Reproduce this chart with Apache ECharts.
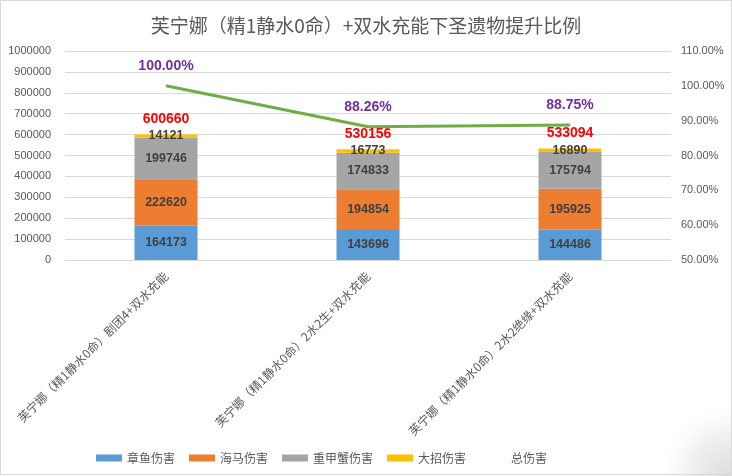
<!DOCTYPE html>
<html>
<head>
<meta charset="utf-8">
<script src="https://cdn.jsdelivr.net/npm/echarts@6/dist/echarts.min.js"></script>
<style>
html,body{margin:0;padding:0;background:#fff;}
#chart{width:732px;height:476px;}
</style>
</head>
<body>
<div id="chart"></div>
<script>
const titleText = '芙宁娜（精1静水0命）+双水充能下圣遗物提升比例';
const categories = ['芙宁娜（精1静水0命）剧团4+双水充能', '芙宁娜（精1静水0命）2水2生+双水充能', '芙宁娜（精1静水0命）2水2绝缘+双水充能'];
const octopus = [164173, 143696, 144486];
const seahorse = [222620, 194854, 195925];
const crab = [199746, 174833, 175794];
const burst = [14121, 16773, 16890];
const total = [600660, 530156, 533094];
const ratio = [1.0, 0.8826, 0.8875];
const seriesNames = ['章鱼伤害', '海马伤害', '重甲蟹伤害', '大招伤害', '总伤害'];

const cjk = '"Noto Sans CJK SC", "Liberation Sans", sans-serif';
const num = '"Liberation Sans", "Noto Sans CJK SC", sans-serif';
const colors = ['#5B9BD5', '#ED7D31', '#A5A5A5', '#FFC000'];
const segLabel = {show: true, position: 'inside', color: '#404040', fontSize: 12.5, fontWeight: 'bold', fontFamily: num};

function barSeries(name, data, color) {
  return {name, type: 'bar', stack: 'dmg', data, barWidth: 63, itemStyle: {color}, label: segLabel, z: 2};
}

const chart = echarts.init(document.getElementById('chart'));
chart.setOption({
  animation: false,
  backgroundColor: '#fff',
  title: {text: titleText, left: 'center', top: 11, textStyle: {fontFamily: cjk, fontSize: 19, fontWeight: 'normal', color: '#595959'}},
  graphic: [
    {type: 'rect', shape: {x: 520, y: 400, width: 212, height: 76}, silent: true, z: -1,
     style: {fill: new echarts.graphic.RadialGradient(1, 1, 1, [{offset: 0, color: '#dcdcdc'}, {offset: 0.6, color: '#f2f2f2'}, {offset: 1, color: 'rgba(255,255,255,0)'}])}},
    {type: 'rect', shape: {x: 0.5, y: 0.5, width: 731, height: 474}, silent: true, z: 100,
     style: {fill: 'none', stroke: '#d9d9d9', lineWidth: 1}}
  ],
  legend: {
    left: 96, top: 452, padding: 0, itemWidth: 26, itemHeight: 7, itemGap: 14, icon: 'rect',
    textStyle: {fontFamily: cjk, fontSize: 12, color: '#595959'},
    data: [
      {name: seriesNames[0]}, {name: seriesNames[1]}, {name: seriesNames[2]}, {name: seriesNames[3]},
      {name: seriesNames[4], itemStyle: {color: 'rgba(0,0,0,0)'}}
    ]
  },
  grid: {left: 65, right: 61, top: 51, bottom: 216},
  xAxis: {
    type: 'category', data: categories,
    axisLine: {lineStyle: {color: '#d9d9d9'}}, axisTick: {show: false},
    axisLabel: {rotate: 45, margin: 14, interval: 0, color: '#595959', fontSize: 12, fontFamily: cjk}
  },
  yAxis: [
    {type: 'value', min: 0, max: 1000000, interval: 100000,
     axisLine: {show: false}, axisTick: {show: false},
     splitLine: {lineStyle: {color: '#d9d9d9'}},
     axisLabel: {margin: 14, color: '#595959', fontSize: 11, fontFamily: num, formatter: v => String(v)}},
    {type: 'value', min: 0.5, max: 1.1, interval: 0.1,
     axisLine: {show: false}, axisTick: {show: false}, splitLine: {show: false},
     axisLabel: {margin: 10, color: '#595959', fontSize: 11, fontFamily: num,
       formatter: v => (v * 100).toFixed(2) + '%'}}
  ],
  series: [
    barSeries(seriesNames[0], octopus, colors[0]),
    barSeries(seriesNames[1], seahorse, colors[1]),
    barSeries(seriesNames[2], crab, colors[2]),
    barSeries(seriesNames[3], burst, colors[3]),
    {name: seriesNames[4], type: 'line', data: total, symbol: 'circle', symbolSize: 1,
     itemStyle: {color: 'rgba(0,0,0,0)'}, lineStyle: {opacity: 0}, z: 5,
     label: {show: true, position: 'top', distance: 8, color: '#FF0000', fontSize: 14, fontWeight: 'bold', fontFamily: num}},
    {name: '提升比例', type: 'line', yAxisIndex: 1, data: ratio, symbol: 'circle', symbolSize: 1,
     itemStyle: {color: '#70AD47'}, lineStyle: {color: '#70AD47', width: 3}, z: 4,
     label: {show: true, position: 'top', distance: 12, color: '#7030A0', fontSize: 14, fontWeight: 'bold', fontFamily: num,
       formatter: p => (p.value * 100).toFixed(2) + '%'}}
  ]
});
</script>
</body>
</html>
